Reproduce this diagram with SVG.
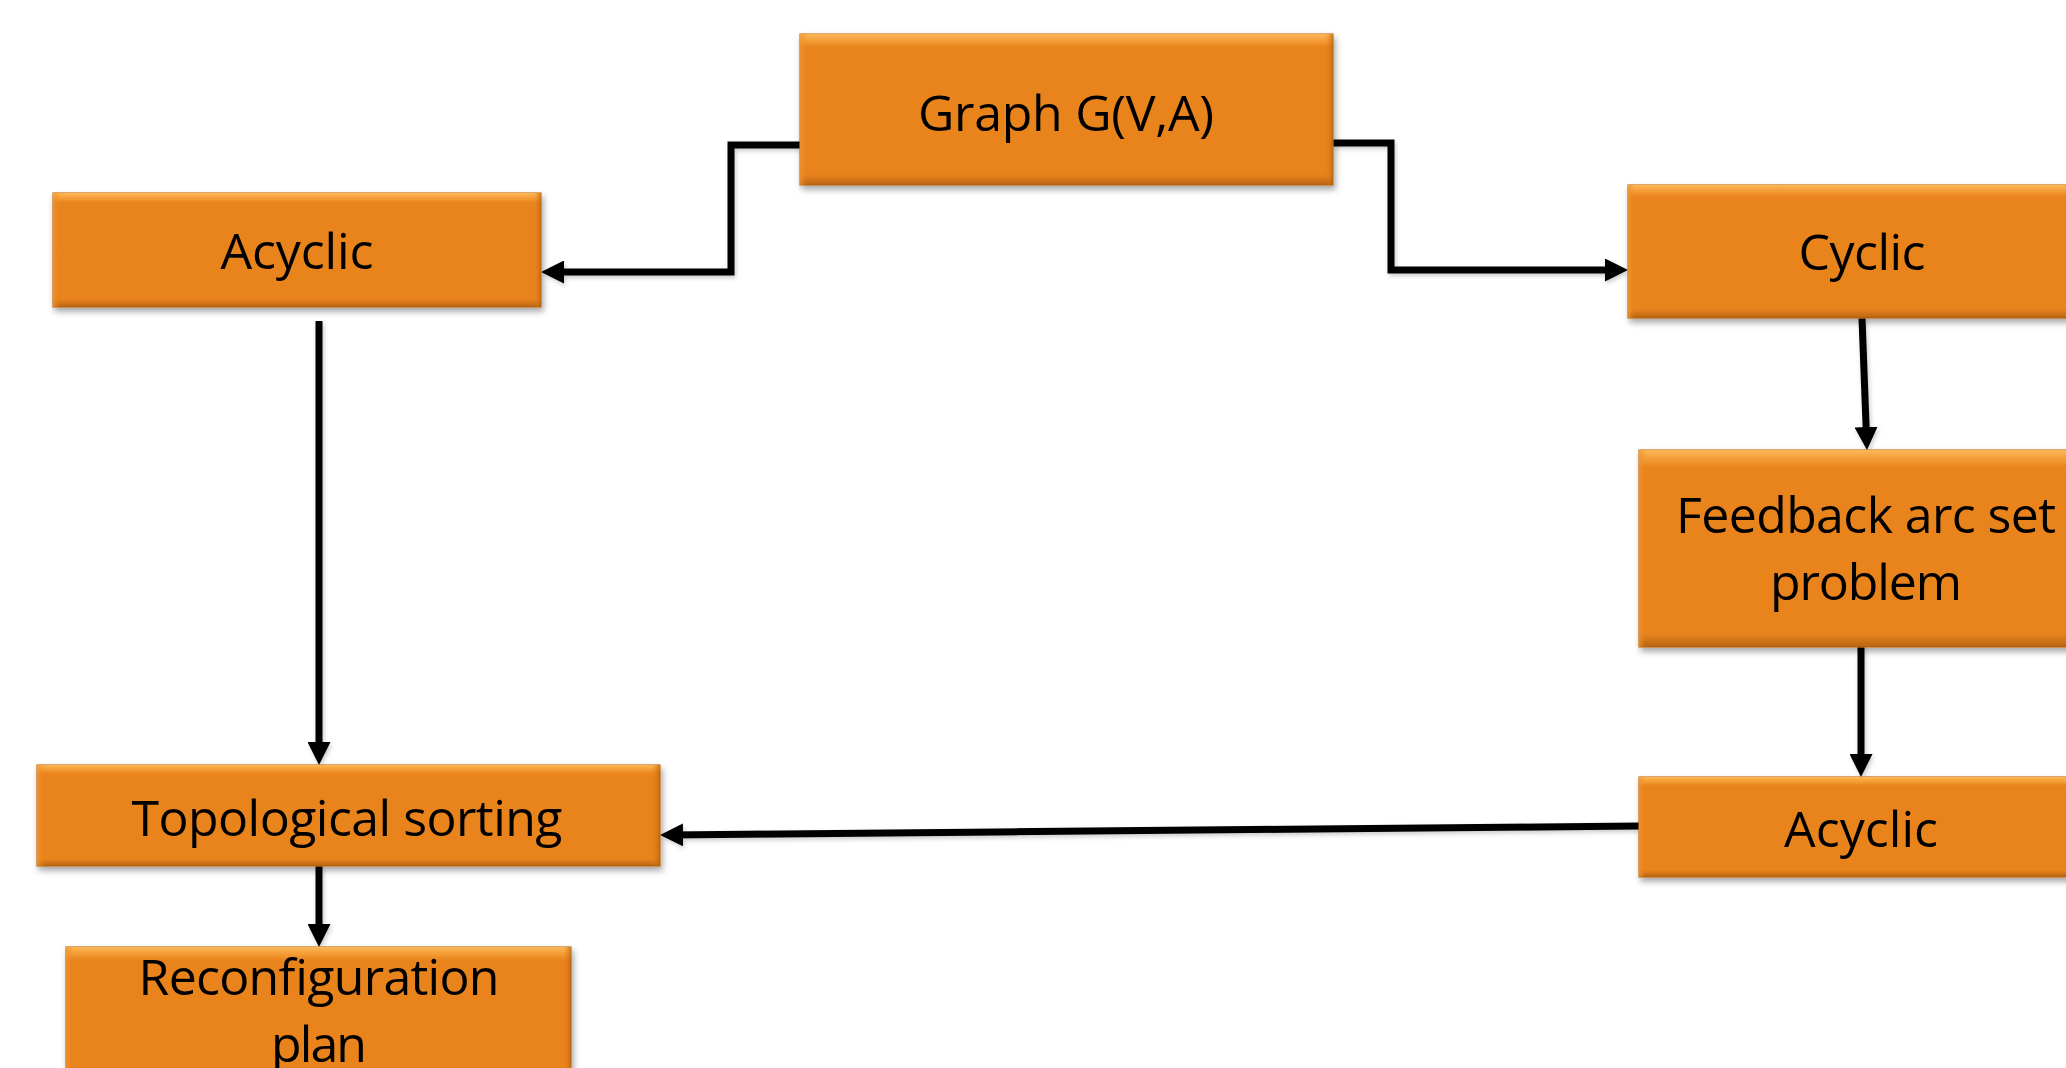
<svg xmlns="http://www.w3.org/2000/svg" width="2066" height="1068" viewBox="0 0 2066 1068">
<style>
.base{fill:#E9831A;stroke:#C8701A;stroke-width:1.2;filter:url(#sh)}
.vg{fill:url(#vg)}
.hg{fill:url(#hg)}
.t{font-family:"Open Sans","Noto Sans",sans-serif;font-size:50px;fill:#000;text-anchor:middle}
.c{fill:none;stroke:#000;stroke-width:7;stroke-linejoin:miter;stroke-linecap:butt;marker-end:url(#ah)}
</style>
<defs>
<filter id="sh" x="-5%" y="-10%" width="110%" height="130%">
<feDropShadow dx="2" dy="4" stdDeviation="3" flood-color="#000" flood-opacity="0.35"/>
</filter>
<filter id="lsh" x="-5%" y="-5%" width="110%" height="110%">
<feDropShadow dx="1.5" dy="2.5" stdDeviation="2" flood-color="#000" flood-opacity="0.2"/>
</filter>
<linearGradient id="vg" x1="0" y1="0" x2="0" y2="1">
<stop offset="0" stop-color="#FFC060" stop-opacity="0.9"/>
<stop offset="0.06" stop-color="#F7A23A" stop-opacity="0.6"/>
<stop offset="0.1" stop-color="#E9831A" stop-opacity="0"/>
<stop offset="0.92" stop-color="#E9831A" stop-opacity="0"/>
<stop offset="0.96" stop-color="#C06A14" stop-opacity="0.5"/>
<stop offset="1" stop-color="#A65A10" stop-opacity="0.8"/>
</linearGradient>
<linearGradient id="hg" x1="0" y1="0" x2="1" y2="0">
<stop offset="0" stop-color="#F29A35" stop-opacity="0.7"/>
<stop offset="0.015" stop-color="#E9831A" stop-opacity="0"/>
<stop offset="0.985" stop-color="#E9831A" stop-opacity="0"/>
<stop offset="1" stop-color="#B0600F" stop-opacity="0.7"/>
</linearGradient>
<marker id="ah" viewBox="0 0 23 23" refX="13" refY="11.5" markerWidth="23" markerHeight="23" markerUnits="userSpaceOnUse" orient="auto">
<path d="M0,0 L23,11.5 L0,23 z" fill="#000"/>
</marker>
</defs>

<g id="connectors" filter="url(#lsh)">
<path class="c" d="M800,145 H731 V272 H551"/>
<path class="c" d="M1333,143 H1391 V270 H1618"/>
<path class="c" d="M319,321 V755"/>
<path class="c" d="M1862,318 L1866.6,440"/>
<path class="c" d="M1861,647 V767"/>
<path class="c" d="M1639,826 L670,835"/>
<path class="c" d="M319,866 V937"/>
</g>

<g id="graph">
<rect class="base" x="800" y="34" width="533" height="151"/>
<rect class="vg" x="800" y="34" width="533" height="151"/>
<rect class="hg" x="800" y="34" width="533" height="151"/>
<text class="t" x="1066" y="131" textLength="296">Graph G(V,A)</text>
</g>

<g id="acyclic1">
<rect class="base" x="53" y="193" width="488" height="114"/>
<rect class="vg" x="53" y="193" width="488" height="114"/>
<rect class="hg" x="53" y="193" width="488" height="114"/>
<text class="t" x="297" y="269" textLength="153">Acyclic</text>
</g>

<g id="cyclic">
<rect class="base" x="1628" y="185" width="470" height="133"/>
<rect class="vg" x="1628" y="185" width="470" height="133"/>
<rect class="hg" x="1628" y="185" width="470" height="133"/>
<text class="t" x="1862" y="270" textLength="127">Cyclic</text>
</g>

<g id="fas">
<rect class="base" x="1639" y="450" width="460" height="197"/>
<rect class="vg" x="1639" y="450" width="460" height="197"/>
<rect class="hg" x="1639" y="450" width="460" height="197"/>
<text class="t" x="1866" y="533" textLength="380">Feedback arc set</text>
<text class="t" x="1866" y="600" textLength="192">problem</text>
</g>

<g id="acyclic2">
<rect class="base" x="1639" y="777" width="460" height="100"/>
<rect class="vg" x="1639" y="777" width="460" height="100"/>
<rect class="hg" x="1639" y="777" width="460" height="100"/>
<text class="t" x="1861" y="847" textLength="154">Acyclic</text>
</g>

<g id="topo">
<rect class="base" x="37" y="765" width="623" height="101"/>
<rect class="vg" x="37" y="765" width="623" height="101"/>
<rect class="hg" x="37" y="765" width="623" height="101"/>
<text class="t" x="347" y="836" textLength="431">Topological sorting</text>
</g>

<g id="reconf">
<rect class="base" x="66" y="947" width="505" height="150"/>
<rect class="vg" x="66" y="947" width="505" height="150"/>
<rect class="hg" x="66" y="947" width="505" height="150"/>
<text class="t" x="319" y="995" textLength="361">Reconfiguration</text>
<text class="t" x="319" y="1062" textLength="96">plan</text>
</g>
</svg>
